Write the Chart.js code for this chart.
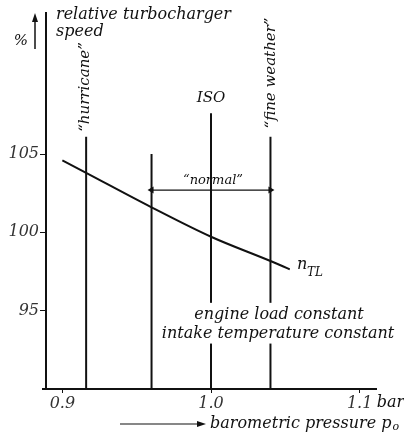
<!DOCTYPE html>
<html>
<head>
<meta charset="utf-8">
<script src="https://cdn.jsdelivr.net/npm/chart.js@4"></script>
<style>
  html, body { margin: 0; padding: 0; background: #fff; }
  #wrap { width: 404px; height: 435px; }
</style>
</head>
<body>
<div id="wrap"><canvas id="myChart"></canvas></div>
<script>
// curve n_TL: relative turbocharger speed vs barometric pressure
const pressure = [0.9, 0.916, 0.96, 1.0, 1.04, 1.053];
const speed = [104.6, 103.8, 101.6, 99.72, 98.17, 97.64];

// vertical marker lines (hurricane, start of normal, ISO, fine weather)
const markerX = [0.916, 0.96, 1.0, 1.04];
const markerTop = [106.1, 105, 107.6, 106.1];

// "normal" range arrow
const normalRange = [0.96, 1.04];
const normalLevel = 102.7;

const xTicks = [0.9, 1.0, 1.1];
const yTicks = [95, 100, 105];

const serif = '"DejaVu Serif", "Liberation Serif", serif';

document.addEventListener('DOMContentLoaded', function () {
  const ctx = document.getElementById('myChart').getContext('2d');

  const curve = {
    data: pressure.map((p, i) => ({ x: p, y: speed[i] })),
    borderColor: '#111',
    borderWidth: 2,
    pointRadius: 0,
    cubicInterpolationMode: 'monotone',
  };

  const markers = markerX.map((x, i) => ({
    data: [{ x: x, y: 90 }, { x: x, y: markerTop[i] }],
    borderColor: '#111',
    borderWidth: 2,
    pointRadius: 0,
  }));

  const normalArrow = {
    data: normalRange.map(x => ({ x: x, y: normalLevel })),
    borderColor: '#111',
    borderWidth: 1.2,
    pointStyle: 'triangle',
    pointRadius: 4,
    pointRotation: [-90, 90],
    pointBackgroundColor: '#111',
    pointBorderWidth: 0,
  };

  const textPlugin = {
    id: 'texts',
    afterDatasetsDraw(chart) {
      const c = chart.ctx;
      const xs = chart.scales.x, ys = chart.scales.y;
      const px = v => xs.getPixelForValue(v);
      const py = v => ys.getPixelForValue(v);
      c.save();
      c.strokeStyle = '#111';

      // white box behind the condition notes (breaks the vertical lines)
      c.fillStyle = '#fff';
      c.fillRect(155, py(95.5), 245, py(92.9) - py(95.5));
      c.fillStyle = '#111';

      c.font = 'italic 16px ' + serif;
      c.textBaseline = 'alphabetic';
      c.textAlign = 'left';
      c.fillText('relative turbocharger', 56, 19);
      c.fillText('speed', 56, 36);

      c.textAlign = 'center';
      c.fillText('engine load constant', 279, 319);
      c.fillText('intake temperature constant', 278, 338);

      c.font = 'italic 15px ' + serif;
      c.fillText('ISO', px(1.0), 102);

      // rotated labels
      const vtext = (t, x, y) => {
        c.save();
        c.translate(x, y);
        c.rotate(-Math.PI / 2);
        c.textAlign = 'center';
        c.fillText(t, 0, 0);
        c.restore();
      };
      vtext('\u201Churricane\u201D', px(0.916) + 3, 87);
      vtext('\u201Cfine weather\u201D', px(1.04) + 5, 73);

      c.font = 'italic 13px ' + serif;
      c.fillText('\u201Cnormal\u201D', px(1.0) + 2, py(normalLevel) - 6);

      // n_TL
      c.textAlign = 'left';
      c.font = 'italic 16px ' + serif;
      c.fillText('n', 297, 269);
      c.font = 'italic 12px ' + serif;
      c.fillText('TL', 307, 276);

      // % with arrow
      c.font = 'italic 15px ' + serif;
      c.textAlign = 'center';
      c.fillText('%', 21, 45);
      c.lineWidth = 1.5;
      c.beginPath();
      c.moveTo(35, 49);
      c.lineTo(35, 20);
      c.stroke();
      c.beginPath();
      c.moveTo(35, 13);
      c.lineTo(32, 22);
      c.lineTo(38, 22);
      c.closePath();
      c.fill();

      // bar unit
      c.textAlign = 'left';
      c.textBaseline = 'middle';
      c.font = 'italic 16px ' + serif;
      c.fillText('bar', px(1.1) + 17, 403);

      // axis title with arrow
      c.textBaseline = 'alphabetic';
      c.fillText('barometric pressure p', 210, 428);
      const w = c.measureText('barometric pressure p').width;
      c.font = 'italic 11px ' + serif;
      c.fillText('o', 210 + w + 1, 430);
      c.lineWidth = 1.2;
      c.beginPath();
      c.moveTo(120, 424);
      c.lineTo(200, 424);
      c.stroke();
      c.beginPath();
      c.moveTo(206, 424);
      c.lineTo(197, 421);
      c.lineTo(197, 427);
      c.closePath();
      c.fill();

      // short overhang of the x axis to the left of the y axis
      c.lineWidth = 2;
      c.beginPath();
      c.moveTo(42, chart.chartArea.bottom);
      c.lineTo(46, chart.chartArea.bottom);
      c.stroke();
      c.restore();
    },
  };

  const tickFont = { family: serif, size: 16, style: 'italic' };

  const chartConfig = {
    type: 'line',
    data: { datasets: [curve, ...markers, normalArrow] },
    options: {
      responsive: true,
      maintainAspectRatio: false,
      animation: false,
      layout: { padding: { top: 13, right: 28, left: 0, bottom: 0 } },
      plugins: { legend: { display: false }, tooltip: { enabled: false } },
      scales: {
        x: {
          type: 'linear',
          min: 0.889,
          max: 1.111,
          afterBuildTicks: s => { s.ticks = xTicks.map(v => ({ value: v })); },
          afterFit: s => { s.height = 46; },
          grid: { drawOnChartArea: false, color: '#111', tickLength: 4 },
          border: { color: '#111', width: 2 },
          ticks: { color: '#333', font: tickFont, padding: 1, callback: v => v.toFixed(1) },
        },
        y: {
          min: 90,
          max: 114,
          afterBuildTicks: s => { s.ticks = yTicks.map(v => ({ value: v })); },
          afterFit: s => { s.width = 46; },
          grid: { drawOnChartArea: false, color: '#111', tickLength: 6 },
          border: { color: '#111', width: 2 },
          ticks: { color: '#333', font: tickFont, padding: 1 },
        },
      },
    },
    plugins: [textPlugin],
  };

  new Chart(ctx, chartConfig);
});
</script>
</body>
</html>
